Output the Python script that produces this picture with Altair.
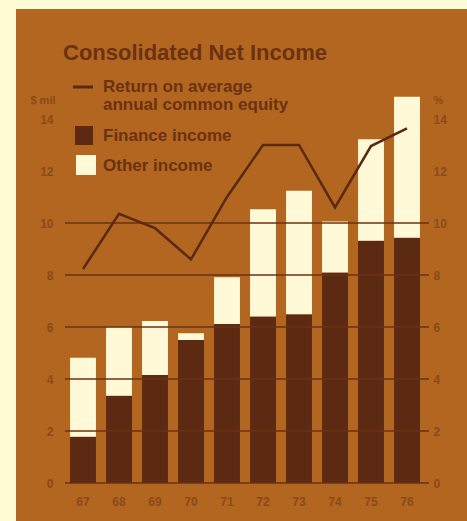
import altair as alt
import pandas as pd

years = ["67", "68", "69", "70", "71", "72", "73", "74", "75", "76"]
finance_income = [1.78, 3.36, 4.15, 5.50, 6.12, 6.40, 6.49, 8.10, 9.32, 9.43]
other_income = [3.04, 2.63, 2.08, 0.26, 1.79, 4.13, 4.75, 1.96, 3.90, 5.43]
return_on_equity = [8.23, 10.35, 9.80, 8.60, 11.00, 13.00, 13.00, 10.60, 12.96, 13.64]
grid_values = [0, 2, 4, 6, 8, 10]
tick_values = [0, 2, 4, 6, 8, 10, 12, 14]

OUTER = "#FFFBD4"
PANEL = "#B3661F"
DARK = "#5C2A12"
CREAM = "#FFF9D8"
LINE = "#5A2912"
GRID = "#6A3214"
TEXT = "#6A3212"
LABEL = "#8A4A1C"
FONT = "Liberation Sans"

W, H = 360, 390

rows = []
for i, y in enumerate(years):
    rows.append({"year": y, "kind": "Finance income", "value": finance_income[i], "ord": 0})
    rows.append({"year": y, "kind": "Other income", "value": other_income[i], "ord": 1})
bars_df = pd.DataFrame(rows)
line_df = pd.DataFrame({"year": years, "roe": return_on_equity})
grid_df = pd.DataFrame({"g": grid_values})
one = pd.DataFrame({"a": [0]})

xscale = alt.Scale(domain=years, paddingInner=0.28, paddingOuter=0.14)
yscale = alt.Scale(domain=[0, 15], nice=False, zero=True)

xaxis = alt.Axis(title=None, labelAngle=0, domain=False, ticks=False, zindex=2,
                 labelPadding=13, labelFontSize=12, labelFont=FONT,
                 labelFontWeight="bold", labelColor=LABEL)

panel = alt.Chart(one).mark_rect(color=PANEL).encode(
    x=alt.value(-49), x2=alt.value(W + 42), y=alt.value(-84), y2=alt.value(H + 38)
)

bars = alt.Chart(bars_df).mark_bar().encode(
    x=alt.X("year:N", scale=xscale, sort=years, axis=xaxis),
    y=alt.Y("value:Q", stack="zero", scale=yscale,
            axis=alt.Axis(title="$ mil", values=tick_values, grid=False, domain=False,
                          ticks=False, zindex=2, labelPadding=12, labelFontSize=12,
                          labelFont=FONT, labelFontWeight="bold", labelColor=LABEL,
                          titleAngle=0, titleAlign="right", titleBaseline="middle",
                          titleX=-10, titleY=7, titleFontSize=11, titleFont=FONT,
                          titleFontWeight="bold", titleColor=LABEL)),
    color=alt.Color("kind:N", scale=alt.Scale(domain=["Finance income", "Other income"],
                                              range=[DARK, CREAM]), legend=None),
    order=alt.Order("ord:Q", sort="ascending"),
)

grid = alt.Chart(grid_df).mark_rule(color=GRID, strokeWidth=1.5).encode(
    y=alt.Y("g:Q", scale=yscale, axis=None),
    x=alt.value(0), x2=alt.value(W + 4),
)

line = alt.Chart(line_df).mark_line(color=LINE, strokeWidth=2.5).encode(
    x=alt.X("year:N", scale=xscale, sort=years, axis=xaxis),
    y=alt.Y("roe:Q", scale=yscale,
            axis=alt.Axis(orient="right", title="%", values=tick_values, grid=False,
                          domain=False, ticks=False, zindex=2, labelPadding=8,
                          labelFontSize=12, labelFont=FONT, labelFontWeight="bold",
                          labelColor=LABEL, titleAngle=0, titleAlign="left",
                          titleBaseline="middle", titleX=8, titleY=7, titleFontSize=11,
                          titleFont=FONT, titleFontWeight="bold", titleColor=LABEL)),
)

title = alt.Chart(one).mark_text(
    text="Consolidated Net Income", align="left", baseline="middle",
    font=FONT, fontSize=22, fontWeight="bold", color=TEXT
).encode(x=alt.value(-2), y=alt.value(-40))

leg_line = alt.Chart(one).mark_rule(color=LINE, strokeWidth=3).encode(
    x=alt.value(8), x2=alt.value(28), y=alt.value(-6)
)
leg_fin = alt.Chart(one).mark_rect(color=DARK).encode(
    x=alt.value(10), x2=alt.value(28), y=alt.value(33), y2=alt.value(52)
)
leg_oth = alt.Chart(one).mark_rect(color=CREAM).encode(
    x=alt.value(11), x2=alt.value(31), y=alt.value(62), y2=alt.value(82)
)

def leg_text(t, yv):
    return alt.Chart(one).mark_text(
        text=t, align="left", baseline="middle", font=FONT, fontSize=17,
        fontWeight="bold", color=TEXT
    ).encode(x=alt.value(38), y=alt.value(yv))

chart = alt.layer(
    panel, bars, grid, line, title, leg_line, leg_fin, leg_oth,
    leg_text("Return on average", -6),
    leg_text("annual common equity", 12),
    leg_text("Finance income", 43),
    leg_text("Other income", 73),
).resolve_scale(y="independent").properties(
    width=W, height=H,
    background=OUTER,
    padding={"left": 65, "top": 93, "right": 42, "bottom": 38},
    autosize=alt.AutoSizeParams(type="none"),
).configure_view(stroke=None)

chart.save("out.html", embed_options={"renderer": "svg", "actions": False})
